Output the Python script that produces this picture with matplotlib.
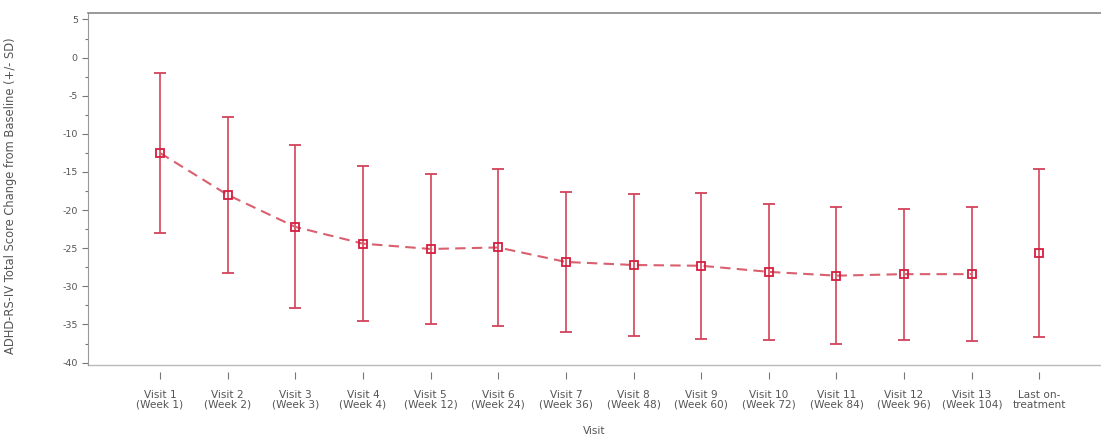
import numpy as np
import matplotlib
matplotlib.use('Agg')
import matplotlib.pyplot as plt
from matplotlib.ticker import MultipleLocator

# data
visits = ['Visit 1', 'Visit 2', 'Visit 3', 'Visit 4', 'Visit 5', 'Visit 6', 'Visit 7',
          'Visit 8', 'Visit 9', 'Visit 10', 'Visit 11', 'Visit 12', 'Visit 13', 'Last on-']
weeks = ['(Week 1)', '(Week 2)', '(Week 3)', '(Week 4)', '(Week 12)', '(Week 24)', '(Week 36)',
         '(Week 48)', '(Week 60)', '(Week 72)', '(Week 84)', '(Week 96)', '(Week 104)', 'treatment']
mean_change = [-12.5, -18.0, -22.2, -24.4, -25.1, -24.9, -26.8,
               -27.2, -27.3, -28.1, -28.6, -28.4, -28.4, -25.6]
sd_change = [10.5, 10.2, 10.7, 10.2, 9.8, 10.3, 9.2,
             9.35, 9.6, 8.9, 8.95, 8.6, 8.8, 11.05]

tick_labels = [v + '\n' + w for v, w in zip(visits, weeks)]
x = np.arange(len(visits))
n_line = 13  # dashed line joins the scheduled visits only

red = '#d2435a'
grey = '#555555'

fig = plt.figure(figsize=(11.01, 4.37), dpi=100)
ax = fig.add_axes([0.0795, 0.165, 0.9205, 0.805])

# ticks sit a little below the bottom line (set first, it resets the ticks)
ax.spines['bottom'].set_position(('outward', 5))
ax.spines['bottom'].set_visible(False)

ax.errorbar(x, mean_change, yerr=sd_change, fmt='none', ecolor=red,
            elinewidth=1.2, capsize=4, capthick=1.3, zorder=2)
ax.plot(x[:n_line], mean_change[:n_line], linestyle=(0, (5, 3)), color='#d9606f',
        linewidth=1.5, zorder=3)
ax.plot(x, mean_change, linestyle='none', marker='s', markersize=5.5,
        markerfacecolor='none', markeredgecolor='#d41f3f', markeredgewidth=1.3, zorder=4)

ax.set_xlim(-1.07, 13.91)
ax.set_ylim(-40.3, 5.83)
ax.axhline(-40.3, color='#bbbbbb', linewidth=1.0, clip_on=False)

ax.set_xticks(x)
ax.set_xticklabels(tick_labels, linespacing=1.0)
ax.yaxis.set_major_locator(MultipleLocator(5))
ax.yaxis.set_minor_locator(MultipleLocator(2.5))
ax.set_yticks(np.arange(-40, 6, 5))
ax.set_yticklabels([str(v) for v in range(-40, 6, 5)])

ax.tick_params(axis='x', length=5, width=0.8, color='#777777', pad=8,
               labelsize=7.6, labelcolor=grey)
ax.tick_params(axis='y', which='major', length=4, width=0.8, color='#777777', pad=3,
               labelsize=6.8, labelcolor=grey)
ax.tick_params(axis='y', which='minor', length=2.5, width=0.8, color='#777777')

ax.spines['right'].set_visible(False)
ax.spines['top'].set_color('#888888')
ax.spines['top'].set_linewidth(1.2)
ax.spines['left'].set_color('#999999')
ax.spines['left'].set_linewidth(0.8)

ax.set_ylabel('ADHD-RS-IV Total Score Change from Baseline (+/- SD)', fontsize=8.3,
              color=grey)
ax.yaxis.set_label_coords(-0.0696, 0.48)
ax.set_xlabel('Visit', fontsize=7.6, color=grey)
ax.xaxis.set_label_coords(0.5, -0.175)

fig.savefig('out.png', dpi=100)
